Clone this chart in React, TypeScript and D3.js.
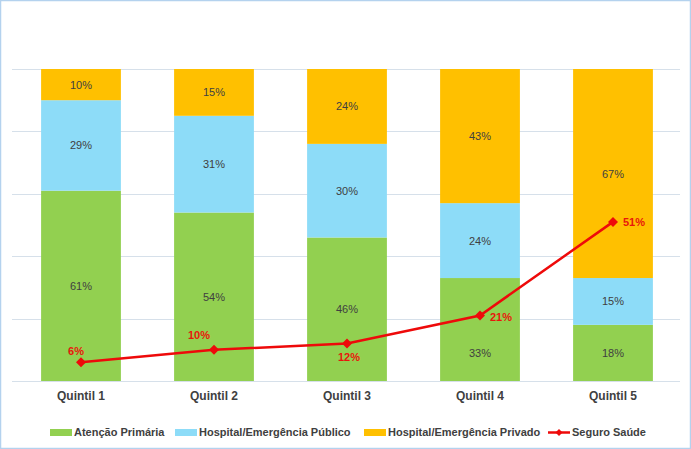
import React from "react";
import * as d3 from "d3";

const categories = ["Quintil 1", "Quintil 2", "Quintil 3", "Quintil 4", "Quintil 5"];
const atencaoPrimaria = [61, 54, 46, 33, 18];
const hospitalPublico = [29, 31, 30, 24, 15];
const hospitalPrivado = [10, 15, 24, 43, 67];
const seguroSaude = [6, 10, 12, 21, 51];
const seriesNames = ["Atenção Primária", "Hospital/Emergência Público", "Hospital/Emergência Privado", "Seguro Saúde"];
const gridTicks = [0, 20, 40, 60, 80, 100];

const colors = ["#92D050", "#8DDCF8", "#FFC000"];
const lineColor = "#EE0A0A";
const font = "Arial, 'Liberation Sans', sans-serif";

// label offset per point [dx, dy, anchor]
const lineLabelPos: [number, number, string][] = [
  [-5, -7, "middle"],
  [-15, -11, "middle"],
  [2, 17, "middle"],
  [10, 6, "start"],
  [10, 4, "start"],
];

export default function App() {
  const W = 691, H = 449;
  const x = d3.scaleBand<string>().domain(categories).range([14.5, 679.5]).paddingInner(0.4).paddingOuter(0.2);
  const y = d3.scaleLinear().domain([0, 100]).range([381, 69]);
  const stacks = [atencaoPrimaria, hospitalPublico, hospitalPrivado];
  const series = d3.stack<number>().keys(["0", "1", "2"]).value((i, k) => stacks[+k][i])(categories.map((_, i) => i));
  const line = d3.line<number>().x((_, i) => x(categories[i])! + x.bandwidth() / 2).y((v) => y(v));

  const legendItems = [
    { x: 50, label: seriesNames[0], color: colors[0], type: "rect" },
    { x: 175, label: seriesNames[1], color: colors[1], type: "rect" },
    { x: 364, label: seriesNames[2], color: colors[2], type: "rect" },
    { x: 548, label: seriesNames[3], color: lineColor, type: "line" },
  ];

  return (
    <svg width={W} height={H} style={{ position: "absolute", left: 0, top: 0, background: "#fff" }} fontFamily={font}>
      <rect x={0.5} y={0.5} width={W - 1} height={H - 1} fill="#fff" stroke="#B4D2EE" strokeWidth={1.5} />
      {gridTicks.map((t) => (
        <line key={t} x1={12} x2={680} y1={Math.round(y(t)) + 0.5} y2={Math.round(y(t)) + 0.5} stroke="#D6E0EA" strokeWidth={1} />
      ))}
      {series.map((s, si) => (
        <g key={si}>
          {s.map((d, i) => {
            const shift = si === 0 && i === 3 ? 23 : 0;
            return (
              <g key={i}>
                <rect x={x(categories[i])} y={y(d[1])} width={x.bandwidth()} height={y(d[0]) - y(d[1])} fill={colors[si]} />
                <text x={x(categories[i])! + x.bandwidth() / 2} y={(y(d[0]) + y(d[1])) / 2 + 4 + shift} textAnchor="middle" fontSize={11} fill="#404040">
                  {stacks[si][i]}%
                </text>
              </g>
            );
          })}
        </g>
      ))}
      <path d={line(seguroSaude)!} fill="none" stroke={lineColor} strokeWidth={2.5} />
      {seguroSaude.map((v, i) => {
        const cx = x(categories[i])! + x.bandwidth() / 2;
        const cy = y(v);
        const [dx, dy, anchor] = lineLabelPos[i];
        return (
          <g key={i}>
            <path d={`M${cx},${cy - 5}L${cx + 5},${cy}L${cx},${cy + 5}L${cx - 5},${cy}Z`} fill={lineColor} />
            <text x={cx + dx} y={cy + dy} textAnchor={anchor} fontSize={11} fontWeight="bold" fill="#E8160C">
              {v}%
            </text>
          </g>
        );
      })}
      {categories.map((c) => (
        <text key={c} x={x(c)! + x.bandwidth() / 2} y={400} textAnchor="middle" fontSize={12} fontWeight="bold" fill="#404040">
          {c}
        </text>
      ))}
      {legendItems.map((it) => (
        <g key={it.label}>
          {it.type === "rect" ? (
            <rect x={it.x} y={429} width={22} height={7} fill={it.color} />
          ) : (
            <g>
              <line x1={it.x} x2={it.x + 22} y1={432.5} y2={432.5} stroke={it.color} strokeWidth={2.5} />
              <path d={`M${it.x + 11},${429}L${it.x + 14.5},${432.5}L${it.x + 11},${436}L${it.x + 7.5},${432.5}Z`} fill={it.color} />
            </g>
          )}
          <text x={it.x + 24} y={436} fontSize={11} fontWeight="bold" fill="#404040">
            {it.label}
          </text>
        </g>
      ))}
    </svg>
  );
}
